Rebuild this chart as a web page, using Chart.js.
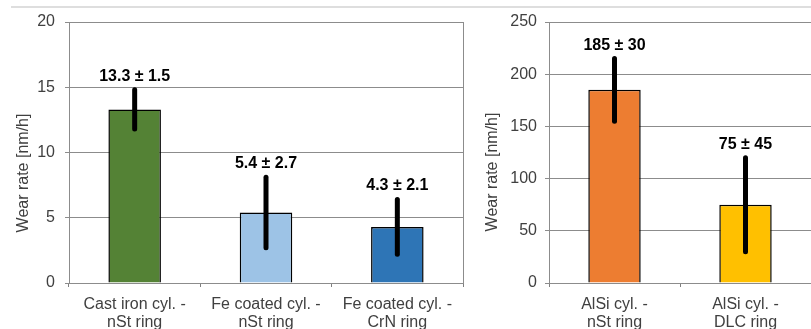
<!DOCTYPE html>
<html>
<head>
<meta charset="utf-8">
<script src="https://cdn.jsdelivr.net/npm/chart.js@4"></script>
<style>
  html, body { margin: 0; padding: 0; background: #fff; overflow: hidden; }
  #topline { position: absolute; left: 11px; top: 6px; width: 800px; height: 2px; background: #dedede; }
  #leftBox { position: absolute; left: 0; top: 0; width: 470px; height: 329px; }
  #rightBox { position: absolute; left: 470px; top: 0; width: 341px; height: 329px; }
</style>
</head>
<body>
<div id="topline"></div>
<div id="leftBox"><canvas id="leftChart" width="470" height="329"></canvas></div>
<div id="rightBox"><canvas id="rightChart" width="341" height="329"></canvas></div>
<script>
// left panel data
const leftCategories = [['Cast iron cyl. -', 'nSt ring'], ['Fe coated cyl. -', 'nSt ring'], ['Fe coated cyl. -', 'CrN ring']];
const leftValues = [13.3, 5.4, 4.3];
const leftErrors = [1.5, 2.7, 2.1];
const leftColors = ['#548235', '#9dc3e6', '#2e75b6'];
const leftTicks = [0, 5, 10, 15, 20];

// right panel data
const rightCategories = [['AlSi cyl. -', 'nSt ring'], ['AlSi cyl. -', 'DLC ring']];
const rightValues = [185, 75];
const rightErrors = [30, 45];
const rightColors = ['#ed7d31', '#ffc000'];
const rightTicks = [0, 50, 100, 150, 200, 250];

const yTitle = 'Wear rate [nm/h]';
const FONT = "'Liberation Sans', Arial, sans-serif";

// error bars + "value ± err" labels, placed with the chart's own scales
const errorBarPlugin = {
  id: 'errorBars',
  afterDatasetsDraw(chart, args, opts) {
    const ctx = chart.ctx;
    const x = chart.scales.x, y = chart.scales.y;
    const vals = chart.data.datasets[0].data;
    vals.forEach((v, i) => {
      const e = opts.errors[i];
      const px = x.getPixelForValue(i);
      const top = y.getPixelForValue(v + e);
      const bot = y.getPixelForValue(v - e);
      ctx.save();
      ctx.strokeStyle = '#000';
      ctx.lineWidth = 5;
      ctx.lineCap = 'round';
      ctx.beginPath();
      ctx.moveTo(px, bot);
      ctx.lineTo(px, top);
      ctx.stroke();
      ctx.font = 'bold 16px ' + FONT;
      ctx.fillStyle = '#000';
      ctx.textAlign = 'center';
      ctx.textBaseline = 'alphabetic';
      ctx.fillText(v + ' \u00b1 ' + e, px, top - 9);
      ctx.restore();
    });
  }
};

// gray frame round the plot area
const plotFramePlugin = {
  id: 'plotFrame',
  beforeDatasetsDraw(chart) {
    const {ctx, chartArea: a} = chart;
    ctx.save();
    ctx.strokeStyle = '#8c8c8c';
    ctx.lineWidth = 1;
    ctx.strokeRect(a.left + 0.5, a.top + 0.5, a.right - a.left, a.bottom - a.top);
    ctx.restore();
  }
};

// rotated axis title at a fixed spot (sits a bit below the plot centre in the original)
const yTitlePlugin = {
  id: 'yTitle',
  afterDraw(chart, args, opts) {
    const ctx = chart.ctx;
    ctx.save();
    ctx.translate(opts.x, opts.y);
    ctx.rotate(-Math.PI / 2);
    ctx.font = '16px ' + FONT;
    ctx.fillStyle = '#404040';
    ctx.textAlign = 'center';
    ctx.textBaseline = 'middle';
    ctx.fillText(yTitle, 0, 0);
    ctx.restore();
  }
};

function makeChart(id, cats, vals, errs, colors, ticks, yWidth, yPad, padRight, titlePos) {
  return new Chart(document.getElementById(id), {
    type: 'bar',
    data: {
      labels: cats,
      datasets: [{
        data: vals,
        backgroundColor: colors,
        borderColor: '#000',
        borderWidth: 1.5,
        categoryPercentage: 0.4,
        barPercentage: 1
      }]
    },
    options: {
      responsive: false,
      animation: false,
      layout: { padding: { top: 22, right: padRight, left: 0, bottom: 0 } },
      plugins: {
        legend: { display: false },
        tooltip: { enabled: false },
        errorBars: { errors: errs },
        yTitle: titlePos
      },
      scales: {
        y: {
          min: ticks[0],
          max: ticks[ticks.length - 1],
          afterBuildTicks(s) { s.ticks = ticks.map(v => ({ value: v })); },
          afterFit(s) { s.width = yWidth; },
          ticks: { color: '#404040', font: { family: FONT, size: 16 }, padding: yPad },
          grid: { color: '#8c8c8c', tickLength: 4 },
          border: { color: '#7f7f7f' }
        },
        x: {
          afterFit(s) { s.height = 46; },
          ticks: {
            color: '#404040',
            font: { family: FONT, size: 16, lineHeight: 1.125 },
            padding: 9,
            maxRotation: 0,
            autoSkip: false
          },
          grid: { drawOnChartArea: false, tickLength: 4, offset: true, color: '#7f7f7f' },
          border: { color: '#7f7f7f' }
        }
      }
    },
    plugins: [plotFramePlugin, errorBarPlugin, yTitlePlugin]
  });
}

makeChart('leftChart', leftCategories, leftValues, leftErrors, leftColors, leftTicks, 69, 10, 7, { x: 24, y: 173 });
makeChart('rightChart', rightCategories, rightValues, rightErrors, rightColors, rightTicks, 79, 8, 0, { x: 23, y: 172 });
</script>
</body>
</html>
